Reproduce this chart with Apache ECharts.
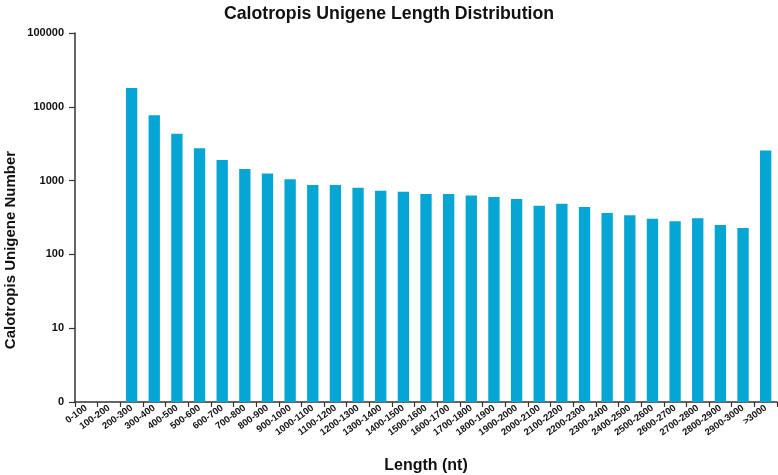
<!DOCTYPE html>
<html>
<head>
<meta charset="utf-8">
<script src="https://cdn.jsdelivr.net/npm/echarts@6/dist/echarts.min.js"></script>
<style>
  html, body { margin: 0; padding: 0; background: #fff; }
  #chart { width: 778px; height: 475px; }
</style>
</head>
<body>
<div id="chart"></div>
<script>
// length bins (nt)
const categories = ["0-100", "100-200", "200-300", "300-400", "400-500", "500-600", "600-700",
  "700-800", "800-900", "900-1000", "1000-1100", "1100-1200", "1200-1300", "1300-1400",
  "1400-1500", "1500-1600", "1600-1700", "1700-1800", "1800-1900", "1900-2000", "2000-2100",
  "2100-2200", "2200-2300", "2300-2400", "2400-2500", "2500-2600", "2600-2700", "2700-2800",
  "2800-2900", "2900-3000", ">3000"]

// unigene counts per bin (first two bins empty)
const counts = [null, null, 18000, 7700, 4300, 2750, 1900, 1440, 1250, 1040, 875, 870, 800,
  730, 705, 660, 660, 630, 600, 565, 455, 487, 440, 365, 340, 305, 282, 310, 250, 228, 2550]

const yTicks = [1, 10, 100, 1000, 10000, 100000]

const chart = echarts.init(document.getElementById("chart"))

const boldFont = "Liberation Sans, Arial, sans-serif"

chart.setOption({
  animation: false,
  title: {
    text: "Calotropis Unigene Length Distribution",
    left: "center",
    top: 0,
    textStyle: { fontFamily: boldFont, fontSize: 17.7, fontWeight: "bold", color: "#111" }
  },
  grid: { left: 75, right: 1, top: 33, bottom: 73, outerBoundsMode: "none", containLabel: false },
  xAxis: {
    type: "category",
    data: categories,
    name: "Length (nt)",
    nameLocation: "middle",
    nameGap: 56,
    nameTextStyle: { fontFamily: boldFont, fontSize: 16, fontWeight: "bold", color: "#111" },
    axisLine: { lineStyle: { color: "#333", width: 1.5 } },
    axisTick: { show: true, length: 5, lineStyle: { color: "#333", width: 1.2 } },
    axisLabel: {
      interval: 0,
      rotate: 36,
      margin: 5,
      fontFamily: boldFont,
      fontSize: 9.5,
      fontWeight: "bold",
      color: "#111"
    }
  },
  yAxis: {
    type: "log",
    logBase: 10,
    min: yTicks[0],
    max: yTicks[yTicks.length - 1],
    splitLine: { show: false },
    axisLine: { show: true, lineStyle: { color: "#333", width: 1.5 } },
    axisTick: { show: true, length: 6, lineStyle: { color: "#333", width: 1.2 } },
    axisLabel: {
      margin: 11,
      fontFamily: boldFont,
      fontSize: 11,
      fontWeight: "bold",
      color: "#111",
      formatter: v => (v === 1 ? "0" : String(v))
    }
  },
  graphic: [{
    type: "text",
    x: 3,
    y: 250,
    rotation: Math.PI / 2,
    style: {
      text: "Calotropis Unigene Number",
      fontFamily: boldFont,
      fontSize: 15,
      fontWeight: "bold",
      fill: "#111",
      align: "center",
      verticalAlign: "top"
    }
  }],
  series: [{
    type: "bar",
    data: counts,
    barWidth: "50%",
    itemStyle: { color: "#05a6d4" }
  }]
})
</script>
</body>
</html>
